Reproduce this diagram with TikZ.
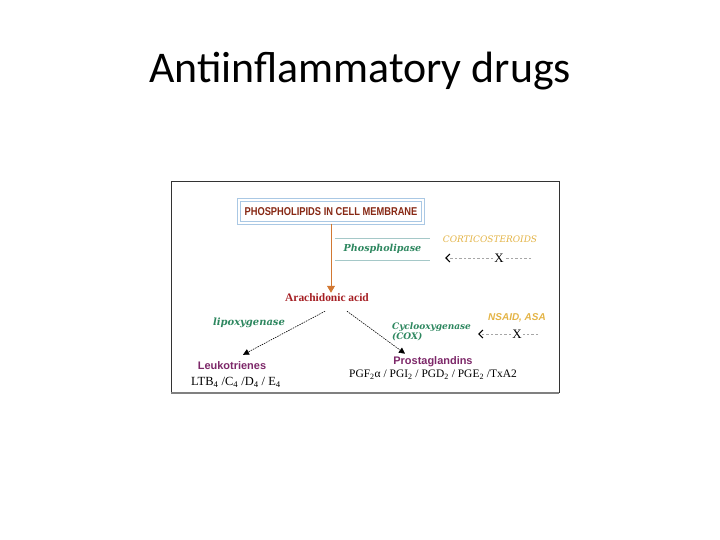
\documentclass[tikz,border=0pt]{standalone}
\usepackage{fontspec}
\setmainfont{Carlito}
\newfontfamily\narrowsans[FakeStretch=0.82]{Liberation Sans}
\newfontfamily\plainsans{Liberation Sans}
\newfontfamily\plainserif{Liberation Serif}
\newfontfamily\wideserif{DejaVu Serif}
\definecolor{MembraneRed}{RGB}{135,40,20}
\definecolor{AcidRed}{RGB}{165,30,35}
\definecolor{EnzymeGreen}{RGB}{45,135,95}
\definecolor{DrugGold}{RGB}{228,180,70}
\definecolor{ProductPurple}{RGB}{125,40,105}
\definecolor{ArrowOrange}{RGB}{210,120,50}
\definecolor{BoxBlue}{RGB}{170,200,228}
\definecolor{LineTeal}{RGB}{165,200,200}
\usetikzlibrary{arrows.meta, positioning}

\begin{document}
\begin{tikzpicture}[x=1bp, y=-1bp, inner sep=1bp,
	titulo/.style={font=\fontsize{44}{52}\selectfont, anchor=base},
	membrana/.style={draw=BoxBlue, line width=1.1bp, double=white, double distance=1.6bp,
		minimum width=184bp, minimum height=23bp, fill=white,
		font=\narrowsans\bfseries\fontsize{11.4}{13}\selectfont, text=MembraneRed},
	enzima/.style={font=\wideserif\bfseries\itshape\fontsize{9.6}{11}\selectfont, text=EnzymeGreen},
	farmaco/.style={font=\wideserif\itshape\fontsize{9}{11}\selectfont, text=DrugGold},
	producto/.style={font=\plainsans\bfseries\fontsize{11}{13}\selectfont, text=ProductPurple},
	serie/.style={font=\plainserif\fontsize{11.5}{13}\selectfont},
	cruz/.style={font=\plainserif\fontsize{13}{15}\selectfont},
	flecha/.style={-{Triangle[length=7bp, width=8bp]}, ArrowOrange, line width=0.9bp},
	punteada/.style={-{Triangle[length=6bp, width=6bp]}, dash pattern=on 1.5bp off 1bp, line width=0.6bp},
	bloqueo/.style={gray!70, dash pattern=on 2.5bp off 2bp, line width=0.6bp},
	linea/.style={LineTeal, line width=0.6bp}]

	\useasboundingbox[fill=white] (0,0) rectangle (720,540);
	\node[titulo] (title) at (360,83) {Antiinflammatory drugs};

	% figure frame
	\draw[black!80, line width=1bp] (171,182) rectangle (559,392);
	\draw[gray, line width=1.4bp] (171,393) -- (559,393);

	\node[membrana] (memb) at (331,211.5) {PHOSPHOLIPIDS IN CELL MEMBRANE};
	\node[enzima, minimum width=95bp, minimum height=22bp] (plase) at (382.5,249) {Phospholipase};
	\draw[linea] (plase.north west) -- (plase.north east);
	\draw[linea] (plase.south west) -- (plase.south east);
	\node[farmaco] (cort) at (490,239) {CORTICOSTEROIDS};

	\node[font=\plainserif\bfseries\fontsize{11.5}{13}\selectfont, text=AcidRed] (arach) at (327,298) {Arachidonic acid};
	\node[enzima, font=\wideserif\bfseries\itshape\fontsize{10}{11}\selectfont] (lox) at (249,323) {lipoxygenase};
	\node[enzima, align=left, font=\wideserif\bfseries\itshape\fontsize{9}{10.5}\selectfont] (cox) at (431.5,332) {Cyclooxygenase\\(COX)};
	\node[farmaco, font=\plainsans\bfseries\itshape\fontsize{10}{12}\selectfont] (nsaid) at (517,318) {NSAID, ASA};

	\node[producto] (leuko) at (232,366) {Leukotrienes};
	\node[serie, font=\plainserif\fontsize{12.5}{14}\selectfont] (ltb) at (236,382) {LTB\textsubscript{4} /C\textsubscript{4} /D\textsubscript{4} / E\textsubscript{4}};
	\node[producto] (prost) at (433,362) {Prostaglandins};
	\node[serie] (pgs) at (433,375) {PGF\textsubscript{2}α / PGI\textsubscript{2} / PGD\textsubscript{2} / PGE\textsubscript{2} /TxA2};

	% blocked steps
	\node[cruz] (x1) at (499,258) {X};
	\coordinate (x1end) at (531,258);
	\coordinate (x1tip) at (445,258);
	\node[cruz] (x2) at (517,334) {X};
	\coordinate (x2end) at (538,334);
	\coordinate (x2tip) at (478,334);
	\draw[bloqueo] (x1end) -- (x1);
	\draw[bloqueo, -{Straight Barb[black, length=4bp, width=8bp, line width=1.2bp]}] (x1) -- (x1tip);
	\draw[bloqueo] (x2end) -- (x2);
	\draw[bloqueo, -{Straight Barb[black, length=4bp, width=8bp, line width=1.2bp]}] (x2) -- (x2tip);

	\draw[flecha] (memb.south) -- (memb.south |- arach.north);
	\draw[punteada] ([xshift=-2bp, yshift=-8bp]arach.south) -- ([xshift=11bp, yshift=6bp]leuko.north);
	\draw[punteada] ([xshift=20bp, yshift=-8bp]arach.south) -- ([xshift=-28bp, yshift=2bp]prost.north);
\end{tikzpicture}
\end{document}
